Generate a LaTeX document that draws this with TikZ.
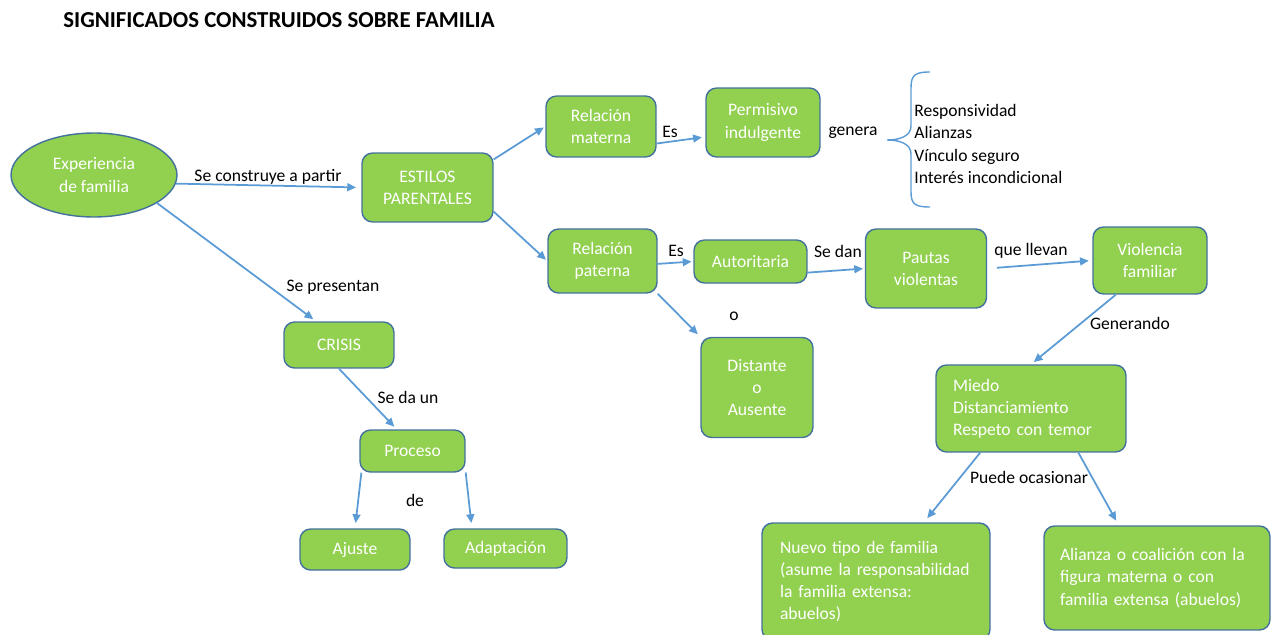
\documentclass[tikz,border=0pt]{standalone}
\usepackage{fontspec}
\setmainfont{Carlito}
\usepackage{xcolor}
\usetikzlibrary{arrows.meta,shapes.geometric}

\definecolor{boxgreen}{HTML}{92D050}
\definecolor{boxedge}{HTML}{41719C}
\definecolor{linkblue}{HTML}{5B9BD5}
\newcommand{\mapfont}{\fontsize{10}{12.6}\selectfont}

\tikzset{
  box/.style={draw=boxedge, line width=0.8pt, fill=boxgreen, rounded corners=6pt,
    text=white, align=center, inner sep=0pt, font=\mapfont},
  bubble/.style={ellipse, draw=boxedge, line width=0.8pt, fill=boxgreen,
    text=white, align=center, inner sep=0pt, font=\mapfont},
  listbox/.style={box, align=left},
  link/.style={draw=linkblue, line width=1pt, -{Triangle[length=5pt,width=4.5pt]}},
  lbl/.style={inner sep=0pt, font=\mapfont, text=black},
}

\begin{document}
\begin{tikzpicture}[x=0.02cm,y=-0.02cm]
\useasboundingbox (0,0) rectangle (1271,635);

\node[anchor=west, inner sep=0pt, font=\bfseries\fontsize{13}{15}\selectfont] (titulo) at (63,20) {SIGNIFICADOS CONSTRUIDOS SOBRE FAMILIA};

\node[bubble, minimum width=3.32cm, minimum height=1.68cm] (exp) at (94,175) {Experiencia\\de familia};
\node[box, minimum width=2.62cm, minimum height=1.38cm] (estilos) at (427.5,187.5) {ESTILOS\\PARENTALES};
\node[box, minimum width=2.2cm, minimum height=1.22cm] (materna) at (601,126.5) {Relación\\materna};
\node[box, minimum width=2.28cm, minimum height=1.38cm] (permisivo) at (763,122.5) {Permisivo\\indulgente};
\node[box, minimum width=2.18cm, minimum height=1.28cm] (paterna) at (602.5,261) {Relación\\paterna};
\node[box, minimum width=2.26cm, minimum height=0.86cm] (autoritaria) at (750.5,261.5) {Autoritaria};
\node[box, minimum width=2.42cm, minimum height=1.58cm] (pautas) at (926,268.5) {Pautas\\violentas};
\node[box, minimum width=2.28cm, minimum height=1.34cm] (violencia) at (1150,260.5) {Violencia\\familiar};
\node[box, minimum width=2.24cm, minimum height=2cm] (distante) at (757,387.5) {Distante\\o\\Ausente};
\node[listbox, minimum height=1.74cm, inner xsep=0.34cm, text width=3.12cm] (miedo) at (1031,408.5) {Miedo\\Distanciamiento\\Respeto con temor};
\node[listbox, minimum height=2.34cm, inner xsep=0.36cm, text width=3.84cm] (nuevo) at (876,581.5) {Nuevo tipo de familia\\(asume la responsabilidad\\la familia extensa:\\abuelos)};
\node[listbox, minimum height=2.08cm, inner xsep=0.32cm, text width=3.88cm] (alianza) at (1157,578) {Alianza o coalición con la\\figura materna o con\\familia extensa (abuelos)};
\node[box, minimum width=2.2cm, minimum height=0.92cm] (crisis) at (339,345) {CRISIS};
\node[box, minimum width=2.1cm, minimum height=0.84cm] (proceso) at (412.5,451) {Proceso};
\node[box, minimum width=2.2cm, minimum height=0.82cm] (ajuste) at (355,549.5) {Ajuste};
\node[box, minimum width=2.46cm, minimum height=0.78cm] (adaptacion) at (505.5,548.5) {Adaptación};

\node[lbl] (construye) at (268,177) {Se construye a partir};
\node[lbl] (presentan) at (333,287) {Se presentan};
\node[lbl] (seda) at (408,397) {Se da un};
\node[lbl] (de) at (415,500) {de};
\node[lbl] (esm) at (670,132) {Es};
\node[lbl] (genera) at (853,133) {genera};
\node[lbl] (esp) at (676,251) {Es};
\node[lbl] (o) at (734,316) {o};
\node[lbl] (sedan) at (838,251) {Se dan};
\node[lbl] (llevan) at (1031,251) {que llevan};
\node[lbl] (generando) at (1130,323) {Generando};
\node[lbl] (ocasionar) at (1029,477) {Puede ocasionar};
\node[lbl, anchor=west, align=left] (efectos) at (914,144) {Responsividad\\Alianzas\\Vínculo seguro\\Interés incondicional};

\draw[draw=linkblue, line width=0.8pt] (930,72) .. controls (915,72) and (911,75) .. (911,88) -- (911,126)
  .. controls (911,136) and (900,140) .. (887,140) .. controls (900,140) and (911,144) .. (911,154)
  -- (911,192) .. controls (911,204) and (915,207) .. (930,207);

\draw[link, shorten >=3pt] (exp.-6) -- (estilos.west);
\draw[link, shorten >=2pt] (exp.-24) -- (crisis.134);
\draw[link, shorten >=1pt] (estilos.23) -- (materna.west);
\draw[link, shorten >=1pt] (estilos.-20) -- (paterna.west);
\draw[link, shorten >=2pt] (materna.-17) -- (permisivo.-166);
\draw[link, shorten >=1pt] (paterna.-3) -- (autoritaria.west);
\draw[link, shorten >=1pt] (autoritaria.-11) -- (pautas.west);
\draw[link, shorten <=5.5pt, shorten >=2pt] (pautas.east) -- (violencia.west);
\draw[link, shorten >=2pt] (violencia.-135) -- (miedo.north);
\draw[link, shorten >=3pt] (miedo.-139) -- (nuevo.51);
\draw[link, shorten >=3pt] (miedo.-43) -- (alianza.126);
\draw[link, shorten >=2pt] (paterna.south east) -- (distante.north west);
\draw[link, shorten >=2pt] (crisis.south) -- (proceso.126);
\draw[link, shorten >=3pt] (proceso.-157) -- (ajuste.north);
\draw[link, shorten >=3pt] (proceso.-22) -- (adaptacion.149);
\end{tikzpicture}
\end{document}
